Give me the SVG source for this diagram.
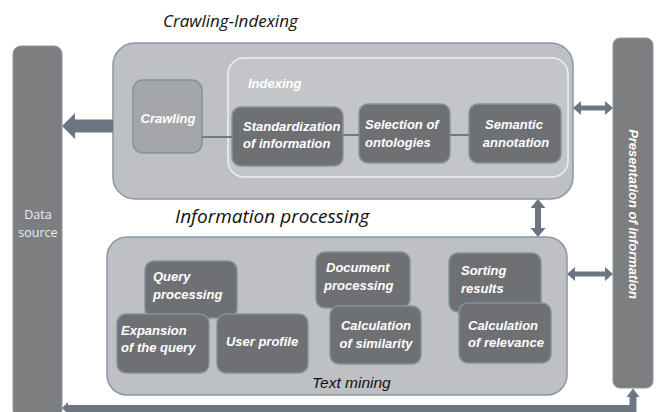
<svg xmlns="http://www.w3.org/2000/svg" width="659" height="412" viewBox="0 0 659 412">
  <style>
    .bar { fill: #7d7e80; stroke: #8a97a6; stroke-width: 1; }
    .group { fill: #bfc0c3; stroke: #8797a9; stroke-width: 1.5; }
    .inner { fill: #c4c5c8; stroke: #eef0f3; stroke-width: 1.5; }
    .box { fill: #6f7073; stroke: #8292a3; stroke-width: 1.5; }
    .light { fill: #a5a6a9; stroke: #8292a3; stroke-width: 1.5; }
    .lbl { font-family: "Liberation Sans", Arial, sans-serif; font-size: 13px; font-weight: bold; font-style: italic; fill: #ffffff; }
    .title { font-family: "Open Sans", "Liberation Sans", sans-serif; font-style: italic; fill: #111111; }
    .side { font-family: "Open Sans", "Liberation Sans", sans-serif; font-size: 12.5px; fill: #ececec; }
    .arrow { fill: #6c7683; }
    .link { stroke: #6c7a8a; stroke-width: 2; fill: none; }
  </style>

  <!-- side bars -->
  <g id="data-source">
    <rect class="bar" x="13" y="46" width="49" height="372" rx="8"/>
    <text class="side" x="38" y="219" text-anchor="middle">Data</text>
    <text class="side" x="38" y="237" text-anchor="middle">source</text>
  </g>
  <g id="presentation">
    <rect class="bar" x="613" y="38" width="40" height="350" rx="7"/>
    <text class="lbl" transform="translate(628.5 214) rotate(90)" text-anchor="middle" font-size="13.5">Presentation of information</text>
  </g>

  <!-- Crawling-Indexing block -->
  <text class="title" x="163" y="27" font-size="17">Crawling-Indexing</text>
  <g id="crawling-indexing">
    <rect class="group" x="113" y="43" width="460" height="156" rx="22"/>
  </g>
  <g id="indexing">
    <rect class="inner" x="228" y="58" width="340" height="119" rx="16"/>
    <text class="lbl" x="248" y="88" font-size="12.5" fill="#f4f4f4">Indexing</text>
  </g>
  <g id="crawling">
    <rect class="light" x="133" y="80" width="69" height="73" rx="10"/>
    <text class="lbl" x="168" y="123" text-anchor="middle">Crawling</text>
  </g>
  <g id="standardization">
    <rect class="box" x="232" y="107" width="111" height="59" rx="9"/>
    <text class="lbl" x="243" y="131">Standardization</text>
    <text class="lbl" x="243" y="148">of information</text>
  </g>
  <g id="selection">
    <rect class="box" x="359" y="104" width="91" height="59" rx="9"/>
    <text class="lbl" x="365" y="129">Selection of</text>
    <text class="lbl" x="365" y="147">ontologies</text>
  </g>
  <g id="semantic">
    <rect class="box" x="469" y="104" width="92" height="59" rx="9"/>
    <text class="lbl" x="514" y="129" text-anchor="middle">Semantic</text>
    <text class="lbl" x="516" y="147" text-anchor="middle">annotation</text>
  </g>

  <!-- Information processing block -->
  <text class="title" x="175" y="223" font-size="19">Information processing</text>
  <g id="information-processing">
    <rect class="group" x="107" y="237" width="460" height="158" rx="20"/>
    <text x="312" y="388" font-family="Liberation Sans, Arial, sans-serif" font-size="15.5" font-style="italic" fill="#111111">Text mining</text>
  </g>
  <g id="query-processing">
    <rect class="box" x="145" y="261" width="92" height="57" rx="9"/>
    <text class="lbl" x="153" y="281">Query</text>
    <text class="lbl" x="153" y="299">processing</text>
  </g>
  <g id="expansion">
    <rect class="box" x="117" y="314" width="92" height="59" rx="9"/>
    <text class="lbl" x="121" y="335">Expansion</text>
    <text class="lbl" x="121" y="352">of the query</text>
  </g>
  <g id="user-profile">
    <rect class="box" x="217" y="314" width="91" height="59" rx="9"/>
    <text class="lbl" x="262" y="346" text-anchor="middle">User profile</text>
  </g>
  <g id="document-processing">
    <rect class="box" x="316" y="252" width="94" height="56" rx="9"/>
    <text class="lbl" x="326" y="272">Document</text>
    <text class="lbl" x="324" y="290">processing</text>
  </g>
  <g id="similarity">
    <rect class="box" x="330" y="306" width="91" height="58" rx="9"/>
    <text class="lbl" x="376" y="330" text-anchor="middle">Calculation</text>
    <text class="lbl" x="376" y="348" text-anchor="middle">of similarity</text>
  </g>
  <g id="sorting">
    <rect class="box" x="449" y="253" width="92" height="59" rx="9"/>
    <text class="lbl" x="461" y="275">Sorting</text>
    <text class="lbl" x="461" y="293">results</text>
  </g>
  <g id="relevance">
    <rect class="box" x="459" y="303" width="92" height="60" rx="9"/>
    <text class="lbl" x="468" y="330">Calculation</text>
    <text class="lbl" x="468" y="347">of relevance</text>
  </g>

  <!-- connectors -->
  <g id="connectors">
    <line class="link" x1="202" y1="137" x2="232" y2="137"/>
    <line class="link" x1="343" y1="135" x2="359" y2="135"/>
    <line class="link" x1="450" y1="135" x2="469" y2="135"/>
    <!-- crawling block to data source -->
    <polygon class="arrow" points="113,119.5 75,119.5 75,113 62,126 75,139 75,132.5 113,132.5"/>
    <!-- crawling block <-> presentation -->
    <polygon class="arrow" points="573,108 581,101 581,105.5 605,105.5 605,101 613,108 605,115 605,110.5 581,110.5 581,115"/>
    <!-- between blocks -->
    <polygon class="arrow" points="538,199 545.5,208 541,208 541,228 545.5,228 538,237 530.5,228 535,228 535,208 530.5,208"/>
    <!-- processing block <-> presentation -->
    <polygon class="arrow" points="567,274 575,267 575,271.5 605,271.5 605,267 613,274 605,281 605,276.5 575,276.5 575,281"/>
    <!-- return line presentation -> data source -->
    <polygon class="arrow" points="62,408 68,402 68,405 629.5,405 629.5,397 626.5,397 633,388.5 639.5,397 636.5,397 636.5,412 68,412 68,414"/>
  </g>
</svg>
